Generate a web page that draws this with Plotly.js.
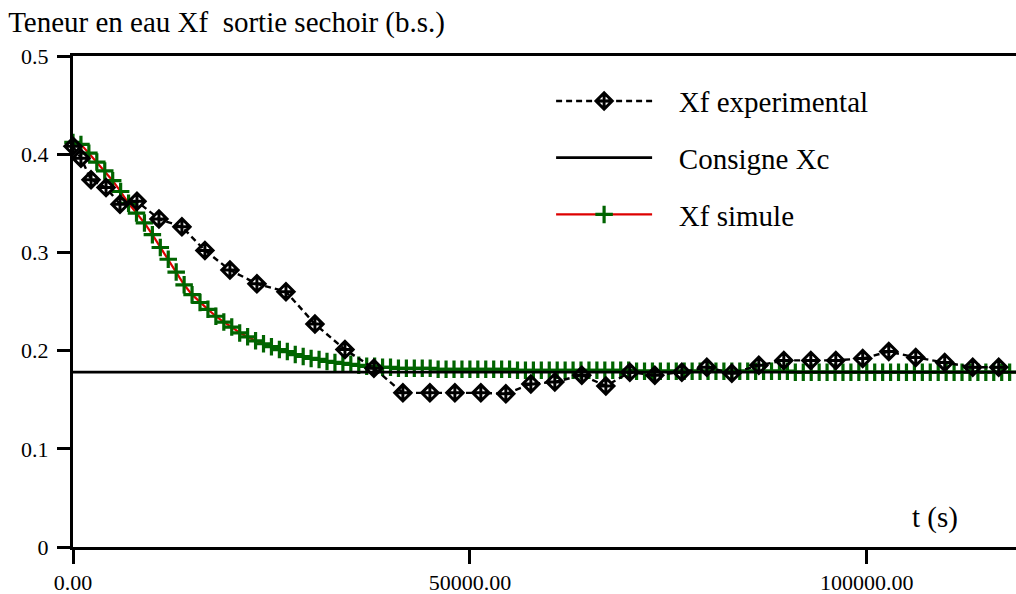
<!DOCTYPE html>
<html>
<head>
<meta charset="utf-8">
<script src="https://cdn.plot.ly/plotly-3.0.1.min.js"></script>
<style>html,body{margin:0;padding:0;background:#fff;}#chart{width:1016px;height:594px;}</style>
</head>
<body>
<div id="chart"></div>
<script>
// Experimental outlet moisture Xf (dry basis) vs time (s)
var expT = [0, 1000, 2270, 4160, 5920, 8060, 10830, 13720, 16620, 19770, 23170, 26830, 30480, 34260, 37910, 41560, 44960, 48110, 51380, 54530, 57680, 60700, 64100, 67130, 70150, 73300, 76700, 79850, 83000, 86400, 89550, 92950, 96100, 99490, 102770, 106170, 109820, 113350, 116620];
var expX = [0.408, 0.396, 0.374, 0.366, 0.349, 0.352, 0.334, 0.326, 0.302, 0.282, 0.268, 0.260, 0.227, 0.201, 0.182, 0.157, 0.157, 0.157, 0.157, 0.156, 0.166, 0.168, 0.175, 0.164, 0.178, 0.175, 0.178, 0.183, 0.177, 0.185, 0.190, 0.190, 0.190, 0.192, 0.199, 0.193, 0.188, 0.183, 0.183];

// Set point Xc
var consigneT = [0, 120000];
var consigneX = [0.178, 0.178];

// Simulated Xf
var simT = [0, 1000, 2000, 3000, 4000, 5000, 6000, 7000, 8000, 9000,
  10000, 11000, 12000, 13000, 14000, 15000, 16000, 17000, 18000, 19000,
  20000, 21000, 22000, 23000, 24000, 25000, 26000, 27000, 28000, 29000,
  30000, 31000, 32000, 33000, 34000, 35000, 36000, 37000, 38000, 39000,
  40000, 41000, 42000, 43000, 44000, 45000, 46000, 47000, 48000, 49000,
  50000, 51000, 52000, 53000, 54000, 55000, 56000, 57000, 58000, 59000,
  60000, 61000, 62000, 63000, 64000, 65000, 66000, 67000, 68000, 69000,
  70000, 71000, 72000, 73000, 74000, 75000, 76000, 77000, 78000, 79000,
  80000, 81000, 82000, 83000, 84000, 85000, 86000, 87000, 88000, 89000,
  90000, 91000, 92000, 93000, 94000, 95000, 96000, 97000, 98000, 99000,
  100000, 101000, 102000, 103000, 104000, 105000, 106000, 107000, 108000, 109000,
  110000, 111000, 112000, 113000, 114000, 115000, 116000, 117000, 118000, 119000];
var simX = [0.412, 0.410, 0.401, 0.392, 0.383, 0.373, 0.362, 0.350, 0.340, 0.330,
  0.318, 0.305, 0.293, 0.280, 0.267, 0.257, 0.249, 0.242, 0.235, 0.229,
  0.224, 0.218, 0.214, 0.210, 0.207, 0.204, 0.201, 0.199, 0.196, 0.194,
  0.192, 0.191, 0.189, 0.188, 0.187, 0.186, 0.185, 0.184, 0.184, 0.183,
  0.183, 0.182, 0.182, 0.182, 0.182, 0.182, 0.181, 0.181, 0.181, 0.181,
  0.181, 0.181, 0.181, 0.181, 0.181, 0.181, 0.180, 0.180, 0.180, 0.180,
  0.180, 0.180, 0.180, 0.180, 0.180, 0.180, 0.180, 0.180, 0.180, 0.180,
  0.180, 0.179, 0.179, 0.179, 0.179, 0.179, 0.179, 0.179, 0.179, 0.179,
  0.179, 0.179, 0.179, 0.179, 0.179, 0.179, 0.179, 0.179, 0.179, 0.179,
  0.179, 0.178, 0.178, 0.178, 0.178, 0.178, 0.178, 0.178, 0.178, 0.178,
  0.178, 0.178, 0.178, 0.178, 0.178, 0.178, 0.178, 0.178, 0.178, 0.178,
  0.178, 0.178, 0.178, 0.178, 0.178, 0.178, 0.178, 0.178, 0.178, 0.178];

var xTickVals = [0, 50000, 100000];
var xTickText = ['0.00', '50000.00', '100000.00'];
var yTickVals = [0, 0.1, 0.2, 0.3, 0.4, 0.5];
var yTickText = ['0', '0.1', '0.2', '0.3', '0.4', '0.5'];

var serif = 'Liberation Serif';
var pad = '\u00a0\u00a0\u00a0';

var traces = [
  {
    name: pad + 'Xf simule', x: simT, y: simX, type: 'scatter', mode: 'lines+markers',
    line: {color: '#dd0000', width: 2.2},
    marker: {symbol: 'cross-thin', size: 12.5, line: {color: '#006400', width: 3.2}, color: '#006400'},
    cliponaxis: false, legendgroup: 'c', legendrank: 3
  },
  {
    name: pad + 'Consigne Xc', x: consigneT, y: consigneX, type: 'scatter', mode: 'lines',
    line: {color: '#000', width: 2.8}, legendgroup: 'b', legendrank: 2
  },
  {
    name: pad + 'Xf experimental', x: expT, y: expX, type: 'scatter', mode: 'lines+markers',
    line: {color: '#000', width: 2.4, dash: '6px,4px'},
    marker: {symbol: 'diamond-cross-open', size: 12.5, color: '#000', line: {color: '#000', width: 3}},
    cliponaxis: false, legendgroup: 'a', legendrank: 1
  }
];

var layout = {
  width: 1016, height: 594,
  margin: {l: 73, r: 0, t: 56, b: 47},
  paper_bgcolor: '#fff', plot_bgcolor: '#fff',
  font: {family: serif, color: '#000', size: 22},
  title: {
    text: 'Teneur en eau Xf  sortie sechoir (b.s.)',
    font: {family: serif, size: 29, color: '#000'},
    x: 0.008, xanchor: 'left', xref: 'container',
    y: 0.963, yanchor: 'middle', yref: 'container'
  },
  xaxis: {
    range: [0, 118800], showgrid: false, zeroline: false,
    showline: true, linecolor: '#000', linewidth: 3, mirror: true,
    ticks: 'outside', ticklen: 14, tickwidth: 3, tickcolor: '#000',
    tickmode: 'array', tickvals: xTickVals, ticktext: xTickText,
    tickfont: {family: serif, size: 22, color: '#000'},
    automargin: false
  },
  yaxis: {
    range: [0, 0.5], showgrid: false, zeroline: false,
    showline: true, linecolor: '#000', linewidth: 3,
    ticks: 'outside', ticklen: 13, tickwidth: 3, tickcolor: '#000',
    tickmode: 'array', tickvals: yTickVals, ticktext: yTickText,
    tickfont: {family: serif, size: 22, color: '#000'},
    ticklabelstandoff: 4,
    automargin: false
  },
  showlegend: true,
  legend: {
    x: 0.507, y: 0.96, xanchor: 'left', yanchor: 'top',
    bgcolor: 'rgba(0,0,0,0)', borderwidth: 0,
    font: {family: serif, size: 29, color: '#000'},
    traceorder: 'grouped', tracegroupgap: 16, itemwidth: 96
  },
  annotations: [
    {text: 't (s)', xref: 'paper', yref: 'paper', x: 0.914, y: 0.061,
     xanchor: 'center', yanchor: 'middle', showarrow: false,
     font: {family: serif, size: 29, color: '#000'}}
  ]
};

Plotly.newPlot('chart', traces, layout, {staticPlot: true, displayModeBar: false});
</script>
</body>
</html>
